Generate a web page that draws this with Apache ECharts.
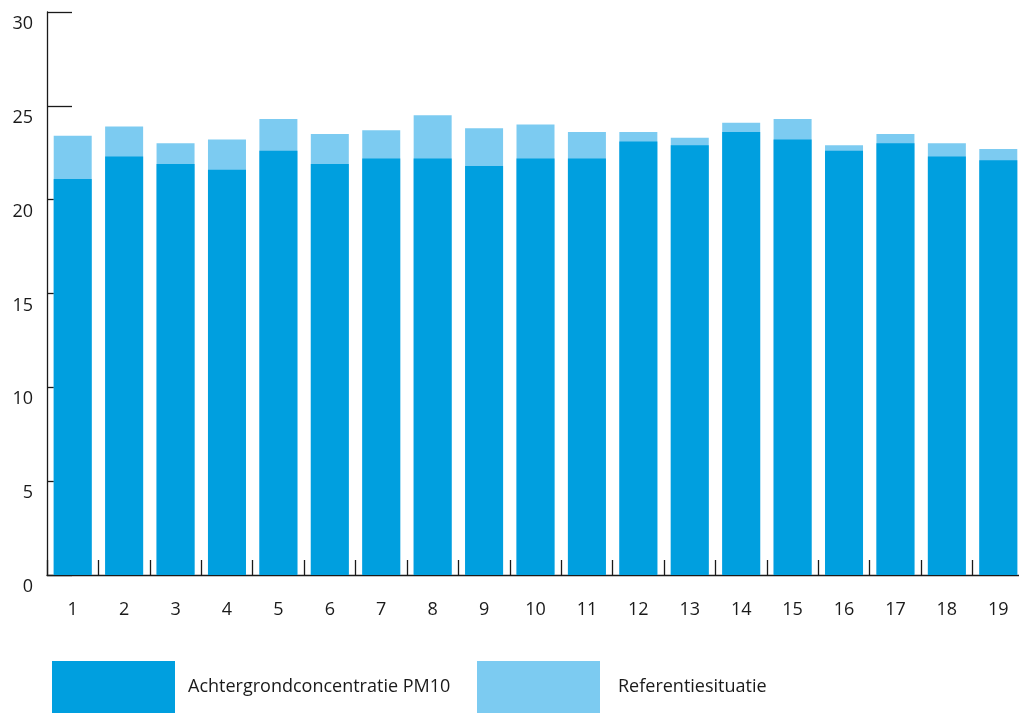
<!DOCTYPE html>
<html>
<head>
<meta charset="utf-8">
<script src="https://cdn.jsdelivr.net/npm/echarts@6/dist/echarts.min.js"></script>
<style>
html,body{margin:0;padding:0;background:#fff;}
#chart{width:1019px;height:713px;}
</style>
</head>
<body>
<div id="chart"></div>
<script>
const categories = ['1','2','3','4','5','6','7','8','9','10','11','12','13','14','15','16','17','18','19'];
const achtergrond = [21.1, 22.3, 21.9, 21.6, 22.6, 21.9, 22.2, 22.2, 21.8, 22.2, 22.2, 23.1, 22.9, 23.6, 23.2, 22.6, 23.0, 22.3, 22.1];
const referentie = [23.4, 23.9, 23.0, 23.2, 24.3, 23.5, 23.7, 24.5, 23.8, 24.0, 23.6, 23.6, 23.3, 24.1, 24.3, 22.9, 23.5, 23.0, 22.7];
const seriesNames = ['Achtergrondconcentratie PM10', 'Referentiesituatie'];
const yTicks = {min: 0, max: 30, interval: 5};

const FONT = 'Open Sans';
const TXT = '#1a1a1a';
const chart = echarts.init(document.getElementById('chart'), null, {renderer: 'canvas'});
chart.setOption({
  animation: false,
  backgroundColor: '#ffffff',
  grid: {left: 47, width: 977, top: 12, height: 563, containLabel: false, outerBoundsMode: 'none'},
  legend: [
    {data: [seriesNames[0]], left: 52, top: 661, padding: 0, itemWidth: 123, itemHeight: 52, icon: 'rect',
     selectedMode: false,
     textStyle: {fontFamily: FONT, fontSize: 18, color: TXT, padding: [0, 0, 0, 8]}},
    {data: [seriesNames[1]], left: 477, top: 661, padding: 0, itemWidth: 123, itemHeight: 52, icon: 'rect',
     selectedMode: false,
     textStyle: {fontFamily: FONT, fontSize: 18, color: TXT, padding: [0, 0, 0, 13]}}
  ],
  xAxis: {
    type: 'category',
    data: categories,
    boundaryGap: true,
    axisLine: {show: true, lineStyle: {color: TXT, width: 1.3}},
    axisTick: {show: true, inside: true, length: 15, interval: 0, lineStyle: {color: TXT, width: 1.3}},
    axisLabel: {margin: 26, fontFamily: FONT, fontSize: 18, color: TXT, interval: 0},
    splitLine: {show: false}
  },
  yAxis: {
    type: 'value',
    min: yTicks.min, max: yTicks.max, interval: yTicks.interval,
    axisLine: {show: true, lineStyle: {color: TXT, width: 1.3}},
    axisTick: {show: true, inside: true, length: 25, lineStyle: {color: TXT, width: 1.3}},
    axisLabel: {margin: 14, fontFamily: FONT, fontSize: 18, color: TXT, align: 'right',
                verticalAlign: 'top', padding: [3, 0, 0, 0]},
    splitLine: {show: false}
  },
  series: [
    {name: seriesNames[1], type: 'bar', data: referentie, barWidth: 38, barGap: '-100%',
     itemStyle: {color: '#7ccbf1'}, z: 2},
    {name: seriesNames[0], type: 'bar', data: achtergrond, barWidth: 38, barGap: '-100%',
     itemStyle: {color: '#009fdf'}, z: 3}
  ]
});
</script>
</body>
</html>
